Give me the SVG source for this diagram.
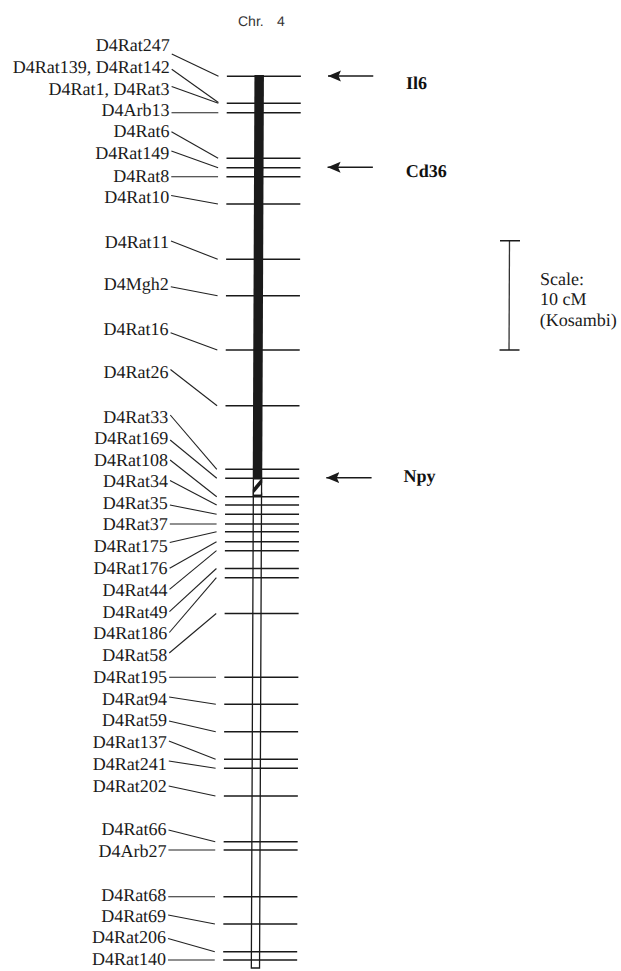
<svg xmlns="http://www.w3.org/2000/svg" width="621" height="971" viewBox="0 0 621 971">
<style>
.lbl{font-family:"Liberation Serif","Times New Roman",serif;font-size:18px;fill:#1a1a1a;text-anchor:end}
.gene{font-family:"Liberation Serif","Times New Roman",serif;font-size:18px;font-weight:bold;fill:#111}
.sc{font-family:"Liberation Serif","Times New Roman",serif;font-size:18px;fill:#1a1a1a}
.chr{font-family:"Liberation Sans",Arial,sans-serif;font-size:14px;fill:#333}
.tick{stroke:#1a1a1a;stroke-width:1.4}
.ld{stroke:#222;stroke-width:1.1;fill:none}
.arr{stroke:#1a1a1a;stroke-width:1.6;marker-end:url(#ah)}
</style>
<defs>
<marker id="ah" markerUnits="userSpaceOnUse" markerWidth="14" markerHeight="12" refX="13" refY="6" orient="auto">
<path d="M0,0.5 L13,6 L0,11.5 L2.5,6 z" fill="#1a1a1a"/>
</marker>
<clipPath id="hclip"><rect x="254.75" y="478.3" width="9.5" height="17.2"/></clipPath>
</defs>
<rect width="621" height="971" fill="#fff"/>
<g transform="matrix(1 0 -0.0042 1 0 0)">
<g id="title"><text class="chr" x="238.1" y="26.5">Chr.</text><text class="chr" x="277" y="26.5">4</text></g>
<g id="chromosome">
<rect x="254.75" y="75" width="9.5" height="403.3" fill="#1a1a1a"/>
<rect x="255.4" y="478.9" width="8.2" height="16.6" fill="#fff" stroke="#1a1a1a" stroke-width="1.3"/>
<g clip-path="url(#hclip)" stroke="#1a1a1a" stroke-width="3.6">
<line x1="252" y1="495" x2="267" y2="477"/>
<line x1="259" y1="502" x2="270" y2="489"/>
</g>
<rect x="255.4" y="495.5" width="8.2" height="472.5" fill="#fff" stroke="#1a1a1a" stroke-width="1.3"/>
<g class="tick">
<line x1="227.2" y1="76.3" x2="301.2" y2="76.3"/>
<line x1="227.2" y1="103.3" x2="301.2" y2="103.3"/>
<line x1="227.2" y1="112.7" x2="301.2" y2="112.7"/>
<line x1="227.2" y1="158.3" x2="301.2" y2="158.3"/>
<line x1="227.2" y1="167.7" x2="301.2" y2="167.7"/>
<line x1="227.2" y1="176.7" x2="301.2" y2="176.7"/>
<line x1="227.2" y1="204" x2="301.2" y2="204"/>
<line x1="227.2" y1="259.3" x2="301.2" y2="259.3"/>
<line x1="227.2" y1="295.7" x2="301.2" y2="295.7"/>
<line x1="227.2" y1="350" x2="301.2" y2="350"/>
<line x1="227.2" y1="405.7" x2="301.2" y2="405.7"/>
<line x1="227.2" y1="469.3" x2="301.2" y2="469.3"/>
<line x1="227.2" y1="478.3" x2="301.2" y2="478.3"/>
<line x1="227.2" y1="496.7" x2="301.2" y2="496.7"/>
<line x1="227.2" y1="505" x2="301.2" y2="505"/>
<line x1="227.2" y1="514.3" x2="301.2" y2="514.3"/>
<line x1="227.2" y1="524" x2="301.2" y2="524"/>
<line x1="227.2" y1="531.7" x2="301.2" y2="531.7"/>
<line x1="227.2" y1="541.7" x2="301.2" y2="541.7"/>
<line x1="227.2" y1="550.7" x2="301.2" y2="550.7"/>
<line x1="227.2" y1="568.5" x2="301.2" y2="568.5"/>
<line x1="227.2" y1="577.7" x2="301.2" y2="577.7"/>
<line x1="227.2" y1="613.5" x2="301.2" y2="613.5"/>
<line x1="227.2" y1="677.3" x2="301.2" y2="677.3"/>
<line x1="227.2" y1="704.3" x2="301.2" y2="704.3"/>
<line x1="227.2" y1="731.7" x2="301.2" y2="731.7"/>
<line x1="227.2" y1="759.3" x2="301.2" y2="759.3"/>
<line x1="227.2" y1="768.3" x2="301.2" y2="768.3"/>
<line x1="227.2" y1="796" x2="301.2" y2="796"/>
<line x1="227.2" y1="841.7" x2="301.2" y2="841.7"/>
<line x1="227.2" y1="850" x2="301.2" y2="850"/>
<line x1="227.2" y1="896.7" x2="301.2" y2="896.7"/>
<line x1="227.2" y1="924" x2="301.2" y2="924"/>
<line x1="227.2" y1="951.7" x2="301.2" y2="951.7"/>
<line x1="227.2" y1="960" x2="301.2" y2="960"/>
</g>
</g>
<g id="connectors" class="ld">
<line x1="172" y1="54" x2="218.8" y2="76.3"/>
<line x1="172" y1="69.3" x2="218.8" y2="102.5"/>
<line x1="172" y1="86.5" x2="218.8" y2="103.3"/>
<line x1="172" y1="112.7" x2="218.8" y2="112.7"/>
<line x1="172" y1="131.7" x2="218.8" y2="158.3"/>
<line x1="172" y1="151" x2="218.8" y2="167.7"/>
<line x1="172" y1="176.7" x2="218.8" y2="176.7"/>
<line x1="172" y1="195.5" x2="218.8" y2="204"/>
<line x1="172" y1="241" x2="218.8" y2="259.3"/>
<line x1="172" y1="286.7" x2="218.8" y2="295.7"/>
<line x1="172" y1="332.7" x2="218.8" y2="350"/>
<line x1="172" y1="369.5" x2="218.8" y2="405.7"/>
<line x1="172" y1="415" x2="218.8" y2="469.3"/>
<line x1="172" y1="440" x2="218.8" y2="478.3"/>
<line x1="172" y1="460" x2="218.8" y2="496.7"/>
<line x1="172" y1="480.5" x2="218.8" y2="505"/>
<line x1="172" y1="505" x2="218.8" y2="514.3"/>
<line x1="172" y1="524" x2="218.8" y2="524"/>
<line x1="172" y1="542.5" x2="218.8" y2="531.7"/>
<line x1="172" y1="568.3" x2="218.8" y2="541.7"/>
<line x1="172" y1="589.3" x2="218.8" y2="550.7"/>
<line x1="172" y1="611.7" x2="218.8" y2="568.5"/>
<line x1="172" y1="632.5" x2="218.8" y2="577.7"/>
<line x1="172" y1="653" x2="218.8" y2="613.5"/>
<line x1="172" y1="677.3" x2="218.8" y2="677.3"/>
<line x1="172" y1="697" x2="218.8" y2="704.3"/>
<line x1="172" y1="721" x2="218.8" y2="731.7"/>
<line x1="172" y1="741" x2="218.8" y2="759.3"/>
<line x1="172" y1="761" x2="218.8" y2="768.3"/>
<line x1="172" y1="786" x2="218.8" y2="796"/>
<line x1="172" y1="830" x2="218.8" y2="841.7"/>
<line x1="172" y1="850" x2="218.8" y2="850"/>
<line x1="172" y1="896.7" x2="218.8" y2="896.7"/>
<line x1="172" y1="915" x2="218.8" y2="924"/>
<line x1="172" y1="938.5" x2="218.8" y2="951.7"/>
<line x1="172" y1="960" x2="218.8" y2="960"/>
</g>
<g id="m-D4Rat247"><text class="lbl" x="170" y="51">D4Rat247</text></g>
<g id="m-D4Rat139-D4Rat142"><text class="lbl" x="170" y="73">D4Rat139, D4Rat142</text></g>
<g id="m-D4Rat1-D4Rat3"><text class="lbl" x="170" y="95">D4Rat1, D4Rat3</text></g>
<g id="m-D4Arb13"><text class="lbl" x="170" y="116.5">D4Arb13</text></g>
<g id="m-D4Rat6"><text class="lbl" x="170" y="137.5">D4Rat6</text></g>
<g id="m-D4Rat149"><text class="lbl" x="170" y="159.3">D4Rat149</text></g>
<g id="m-D4Rat8"><text class="lbl" x="170" y="182">D4Rat8</text></g>
<g id="m-D4Rat10"><text class="lbl" x="170" y="203">D4Rat10</text></g>
<g id="m-D4Rat11"><text class="lbl" x="170" y="248">D4Rat11</text></g>
<g id="m-D4Mgh2"><text class="lbl" x="170" y="290">D4Mgh2</text></g>
<g id="m-D4Rat16"><text class="lbl" x="170" y="335">D4Rat16</text></g>
<g id="m-D4Rat26"><text class="lbl" x="170" y="378">D4Rat26</text></g>
<g id="m-D4Rat33"><text class="lbl" x="170" y="422.7">D4Rat33</text></g>
<g id="m-D4Rat169"><text class="lbl" x="170" y="444.5">D4Rat169</text></g>
<g id="m-D4Rat108"><text class="lbl" x="170" y="466">D4Rat108</text></g>
<g id="m-D4Rat34"><text class="lbl" x="170" y="487.5">D4Rat34</text></g>
<g id="m-D4Rat35"><text class="lbl" x="170" y="509.3">D4Rat35</text></g>
<g id="m-D4Rat37"><text class="lbl" x="170" y="530.5">D4Rat37</text></g>
<g id="m-D4Rat175"><text class="lbl" x="170" y="552.5">D4Rat175</text></g>
<g id="m-D4Rat176"><text class="lbl" x="170" y="574.3">D4Rat176</text></g>
<g id="m-D4Rat44"><text class="lbl" x="170" y="596">D4Rat44</text></g>
<g id="m-D4Rat49"><text class="lbl" x="170" y="617.7">D4Rat49</text></g>
<g id="m-D4Rat186"><text class="lbl" x="170" y="639.3">D4Rat186</text></g>
<g id="m-D4Rat58"><text class="lbl" x="170" y="660.7">D4Rat58</text></g>
<g id="m-D4Rat195"><text class="lbl" x="170" y="683.3">D4Rat195</text></g>
<g id="m-D4Rat94"><text class="lbl" x="170" y="705">D4Rat94</text></g>
<g id="m-D4Rat59"><text class="lbl" x="170" y="726.5">D4Rat59</text></g>
<g id="m-D4Rat137"><text class="lbl" x="170" y="748.3">D4Rat137</text></g>
<g id="m-D4Rat241"><text class="lbl" x="170" y="770">D4Rat241</text></g>
<g id="m-D4Rat202"><text class="lbl" x="170" y="791.7">D4Rat202</text></g>
<g id="m-D4Rat66"><text class="lbl" x="170" y="835">D4Rat66</text></g>
<g id="m-D4Arb27"><text class="lbl" x="170" y="856.7">D4Arb27</text></g>
<g id="m-D4Rat68"><text class="lbl" x="170" y="900.7">D4Rat68</text></g>
<g id="m-D4Rat69"><text class="lbl" x="170" y="921.7">D4Rat69</text></g>
<g id="m-D4Rat206"><text class="lbl" x="170" y="943.3">D4Rat206</text></g>
<g id="m-D4Rat140"><text class="lbl" x="170" y="965">D4Rat140</text></g>
<g id="gene-Il6"><line class="arr" x1="373.6" y1="76" x2="328.3" y2="76"/><text class="gene" x="406.4" y="89">Il6</text></g>
<g id="gene-Cd36"><line class="arr" x1="373.6" y1="167.3" x2="328.3" y2="167.3"/><text class="gene" x="406.6" y="176.7">Cd36</text></g>
<g id="gene-Npy"><line class="arr" x1="373.6" y1="477.7" x2="328.3" y2="477.7"/><text class="gene" x="405.5" y="482.5">Npy</text></g>
<g id="scale">
<line x1="510.5" y1="240.7" x2="510.5" y2="350" stroke="#333" stroke-width="1.3"/>
<line x1="501" y1="240.7" x2="521" y2="240.7" stroke="#1a1a1a" stroke-width="1.5"/>
<line x1="501" y1="350" x2="521" y2="350" stroke="#1a1a1a" stroke-width="1.5"/>
<text class="sc" x="541.2" y="284.7">Scale:</text>
<text class="sc" x="541.2" y="305.3">10 cM</text>
<text class="sc" x="541.2" y="326">(Kosambi)</text>
</g>
</g>
</svg>
